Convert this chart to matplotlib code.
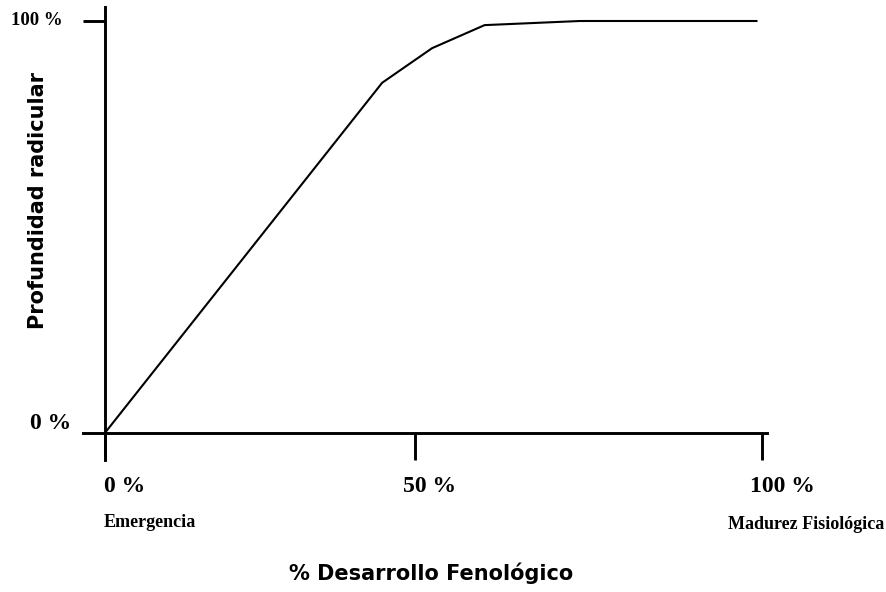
import matplotlib.pyplot as plt

# Datos (% desarrollo vs % profundidad)
desarrollo = [0, 42.2, 49.8, 57.8, 72.3, 99.2]
profundidad = [0, 85.0, 93.4, 99.0, 100, 100]

# Marcas del eje x (posicion, etiqueta)
xticks_pos = [0, 47.2, 100]
xticks_lab = ['0 %', '50 %', '100 %']
xlab_pos = [-0.15, 45.4, 98.2]   # las etiquetas estan algo desplazadas a la izquierda
yticks_pos = [0, 100]
yticks_lab = ['0 %', '100 %']

serif = 'Liberation Serif'
sans = 'DejaVu Sans'

fig = plt.figure(figsize=(8.87, 5.92), dpi=100)
ax = fig.add_axes([83 / 887, 132 / 592, 684 / 887, 453 / 592])
ax.set_xlim(-3.35, 100.8)
ax.set_ylim(-6.6, 103.4)

ax.plot(desarrollo, profundidad, color='black', lw=1.5, solid_joinstyle='miter')

for s in ['top', 'right']:
    ax.spines[s].set_visible(False)
ax.spines['left'].set_position(('data', 0))
ax.spines['bottom'].set_position(('data', 0))
ax.spines['left'].set_linewidth(2.1)
ax.spines['bottom'].set_linewidth(2.1)

ax.set_xticks(xticks_pos)
ax.set_xticklabels([])
ax.set_yticks([100])
ax.set_yticklabels([])
ax.tick_params(axis='x', direction='out', length=19.4, width=2.1)
ax.tick_params(axis='y', direction='out', length=15.8, width=2.1)

# etiquetas de las marcas
for x, lab in zip(xlab_pos, xticks_lab):
    ax.text(x, -13.1, lab, ha='left', va='center', family=serif,
            fontweight='bold', fontsize=17)
ax.text(-6.4, yticks_pos[1] + 0.2, yticks_lab[1], ha='right', va='center', family=serif,
        fontweight='bold', fontsize=13.5)
ax.text(-5.2, 2.3, yticks_lab[0], ha='right', va='center', family=serif,
        fontweight='bold', fontsize=17)

ax.text(-0.15, -21.8, 'Emergencia', ha='left', va='center', family=serif,
        fontweight='bold', fontsize=13)
ax.text(118.6, -22.2, 'Madurez Fisiológica', ha='right', va='center', family=serif,
        fontweight='bold', fontsize=13)

ax.text(49.6, -34.0, '% Desarrollo Fenológico', ha='center', va='center',
        family=sans, fontweight='bold', fontsize=15)
ax.text(-10.2, 56.3, 'Profundidad radicular', ha='center', va='center',
        rotation=90, family=sans, fontweight='bold', fontsize=15)

fig.savefig('out.png', dpi=100)
